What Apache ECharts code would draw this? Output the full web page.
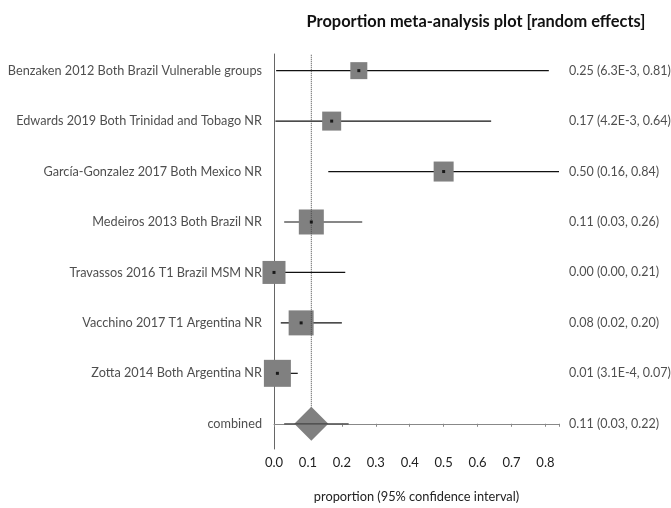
<!DOCTYPE html>
<html>
<head>
<meta charset="utf-8">
<script src="https://cdn.jsdelivr.net/npm/echarts@6/dist/echarts.min.js"></script>
<style>html,body{margin:0;padding:0;background:#fff;}#c{width:671px;height:508px;}</style>
</head>
<body>
<div id="c"></div>
<script>
const studies = [
  'Benzaken 2012 Both Brazil Vulnerable groups',
  'Edwards 2019 Both Trinidad and Tobago NR',
  'García-Gonzalez 2017 Both Mexico NR',
  'Medeiros 2013 Both Brazil NR',
  'Travassos 2016 T1 Brazil MSM NR',
  'Vacchino 2017 T1 Argentina NR',
  'Zotta 2014 Both Argentina NR'
];
const estimates = [0.25, 0.17, 0.50, 0.11, 0.00, 0.08, 0.01];
const lowerCI = [0.0063, 0.0042, 0.16, 0.03, 0.00, 0.02, 0.00031];
const upperCI = [0.81, 0.64, 0.84, 0.26, 0.21, 0.20, 0.07];
const weightSizes = [17, 19, 20, 25, 23, 25, 27];
const ciLabels = [
  '0.25 (6.3E-3, 0.81)',
  '0.17 (4.2E-3, 0.64)',
  '0.50 (0.16, 0.84)',
  '0.11 (0.03, 0.26)',
  '0.00 (0.00, 0.21)',
  '0.08 (0.02, 0.20)',
  '0.01 (3.1E-4, 0.07)'
];
const combinedName = 'combined';
const combinedEst = 0.11;
const combinedLower = 0.03;
const combinedUpper = 0.22;
const combinedLabel = '0.11 (0.03, 0.22)';
const xTicks = [0.0, 0.1, 0.2, 0.3, 0.4, 0.5, 0.6, 0.7, 0.8];

const n = studies.length;
const rowY = i => n - i; // study rows above combined (row 0)
const FONT = 'Lato, "Open Sans", sans-serif';

const ciData = studies.map((s, i) => [lowerCI[i], upperCI[i], rowY(i)]);
const squareData = studies.map((s, i) => ({value: [estimates[i], rowY(i)], symbolSize: weightSizes[i]}));
const dotData = studies.map((s, i) => [estimates[i], rowY(i)]);
const leftLabelData = studies.map((s, i) => ({value: [0, rowY(i)], name: s})).concat([{value: [0, 0], name: combinedName}]);
const rightLabelData = ciLabels.map((s, i) => ({value: [0.84, rowY(i)], name: s})).concat([{value: [0.84, 0], name: combinedLabel}]);

function hLine(color) {
  return function (params, api) {
    const a = api.coord([api.value(0), api.value(2)]);
    const b = api.coord([api.value(1), api.value(2)]);
    return {type: 'line', shape: {x1: a[0], y1: a[1], x2: b[0], y2: b[1]}, style: {stroke: color, lineWidth: 1.2}};
  };
}

const chart = echarts.init(document.getElementById('c'));
chart.setOption({
  animation: false,
  title: {
    text: 'Proportion meta-analysis plot [random effects]',
    left: 471, top: 9, textAlign: 'center',
    textStyle: {fontFamily: FONT, fontWeight: 'bold', fontSize: 16.4, color: '#111'}
  },
  grid: {left: 274, right: 112, top: 54, bottom: 58},
  xAxis: {
    type: 'value', min: 0, max: 0.84, interval: 0.1,
    name: 'proportion (95% confidence interval)', nameLocation: 'middle', nameGap: 41,
    nameTextStyle: {fontFamily: FONT, fontSize: 12.8, color: '#222'},
    axisLine: {show: true, lineStyle: {color: '#888', width: 1}},
    axisTick: {show: true, length: 3, lineStyle: {color: '#888'}},
    axisLabel: {fontFamily: FONT, fontSize: 13, color: '#222', margin: 7, formatter: v => xTicks.some(t => Math.abs(t - v) < 1e-9) ? v.toFixed(1) : ''},
    splitLine: {show: false}
  },
  yAxis: {
    type: 'value', min: -0.5, max: 7.33,
    axisLine: {show: true, lineStyle: {color: '#666', width: 1}},
    axisTick: {show: false}, axisLabel: {show: false}, splitLine: {show: false}
  },
  series: [
    {type: 'custom', renderItem: hLine('#111'), data: ciData, clip: false, z: 2},
    {type: 'scatter', symbol: 'rect', data: squareData, itemStyle: {color: '#808080', opacity: 1}, z: 3},
    {type: 'scatter', symbol: 'rect', data: dotData, symbolSize: 3, itemStyle: {color: '#000'}, z: 7},
    {type: 'custom', clip: false, z: 4, data: [[combinedEst, 0, 7.33]],
      renderItem: function (params, api) {
        const a = api.coord([api.value(0), api.value(1)]);
        const b = api.coord([api.value(0), api.value(2)]);
        return {type: 'line', shape: {x1: a[0], y1: a[1], x2: b[0], y2: b[1]}, style: {stroke: '#444', lineWidth: 1, lineDash: [1, 1]}};
      }},
    {type: 'scatter', symbol: 'diamond', data: [[combinedEst, 0]], symbolSize: 34, itemStyle: {color: '#808080', opacity: 1}, z: 5},
    {type: 'custom', renderItem: hLine('#444'), data: [[combinedLower, combinedUpper, 0]], clip: false, z: 6},
    {type: 'scatter', data: leftLabelData, symbolSize: 0, z: 8,
      label: {show: true, position: 'left', distance: 12, formatter: p => p.name, fontFamily: FONT, fontSize: 12.7, color: '#222'}},
    {type: 'scatter', data: rightLabelData, symbolSize: 0, z: 8,
      label: {show: true, position: 'right', distance: 10, formatter: p => p.name, fontFamily: FONT, fontSize: 12.5, color: '#222'}}
  ]
});
</script>
</body>
</html>
